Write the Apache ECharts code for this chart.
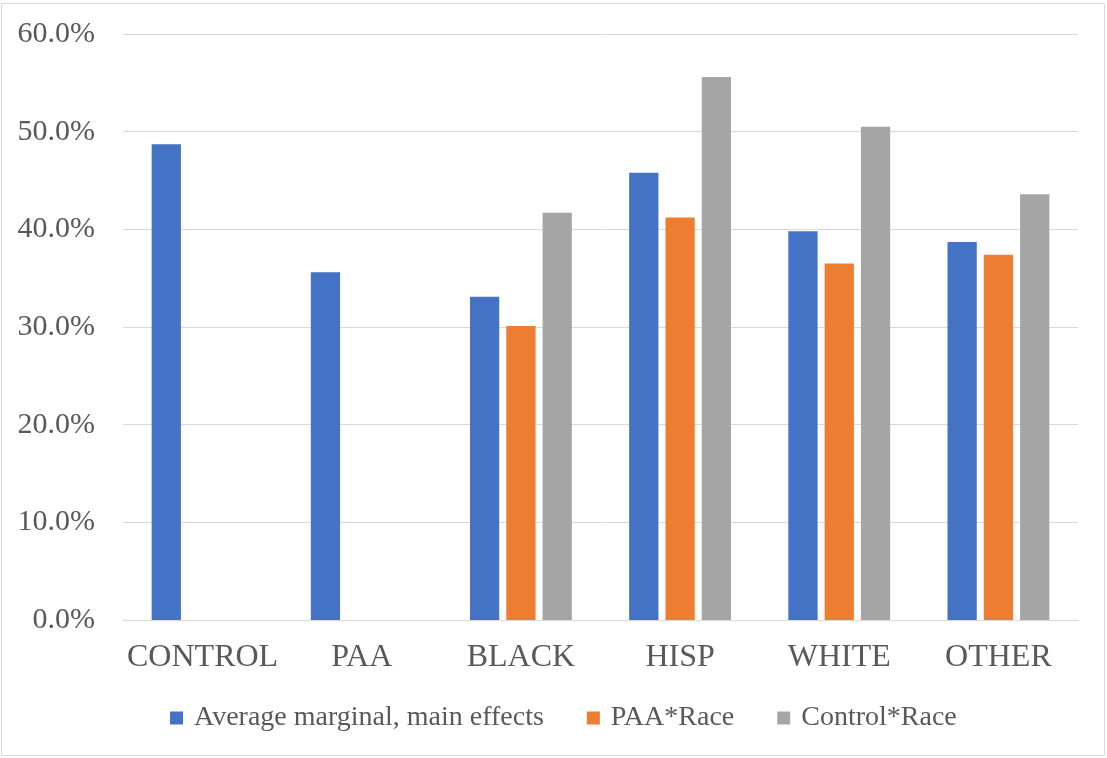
<!DOCTYPE html>
<html><head><meta charset="utf-8">
<script src="https://cdn.jsdelivr.net/npm/echarts@6/dist/echarts.min.js"></script>
<style>html,body{margin:0;padding:0;background:#fff}#c{width:1107px;height:758px}</style>
</head><body><div id="c"></div>
<script>
const categories = ['CONTROL','PAA','BLACK','HISP','WHITE','OTHER'];
const seriesNames = ['Average marginal, main effects','PAA*Race','Control*Race'];
const mainEffects = [48.7, 35.6, 33.1, 45.8, 39.8, 38.7];
const paaRace = [null, null, 30.1, 41.2, 36.5, 37.4];
const controlRace = [null, null, 41.7, 55.6, 50.5, 43.6];
const colors = ['#4472C4','#ED7D31','#A5A5A5'];
const FONT = 'Liberation Serif';
const chart = echarts.init(document.getElementById('c'));
const mk = (name, data, color) => ({
  name, type: 'bar', data, itemStyle: {color},
  barGap: '24%', barCategoryGap: '36%'
});
chart.setOption({
  animation: false,
  graphic: [{type:'rect', shape:{x:1.5,y:3.5,width:1103,height:752}, style:{fill:'none', stroke:'#d9d9d9', lineWidth:1}}],
  grid: {left:123, right:29, top:34, bottom:138},
  legend: {
    top: 699, left: 165, itemWidth: 13, itemHeight: 13, itemGap: 43,
    icon: 'rect',
    textStyle: {fontFamily: FONT, fontSize: 28, color: '#595959', padding:[0,0,0,6]},
    data: seriesNames
  },
  xAxis: {
    type: 'category', data: categories,
    axisLine: {lineStyle: {color: '#d9d9d9', width: 1}},
    axisTick: {show: false},
    axisLabel: {interval: 0, fontFamily: FONT, fontSize: 32, color: '#595959', margin: 22}
  },
  yAxis: {
    type: 'value', min: 0, max: 60, interval: 10,
    axisLine: {show: false}, axisTick: {show: false},
    splitLine: {lineStyle: {color: '#d9d9d9', width: 1}},
    axisLabel: {fontFamily: FONT, fontSize: 30, color: '#595959', margin: 28,
      formatter: v => v.toFixed(1) + '%'}
  },
  series: [mk(seriesNames[0], mainEffects, colors[0]), mk(seriesNames[1], paaRace, colors[1]), mk(seriesNames[2], controlRace, colors[2])]
});
</script></body></html>
